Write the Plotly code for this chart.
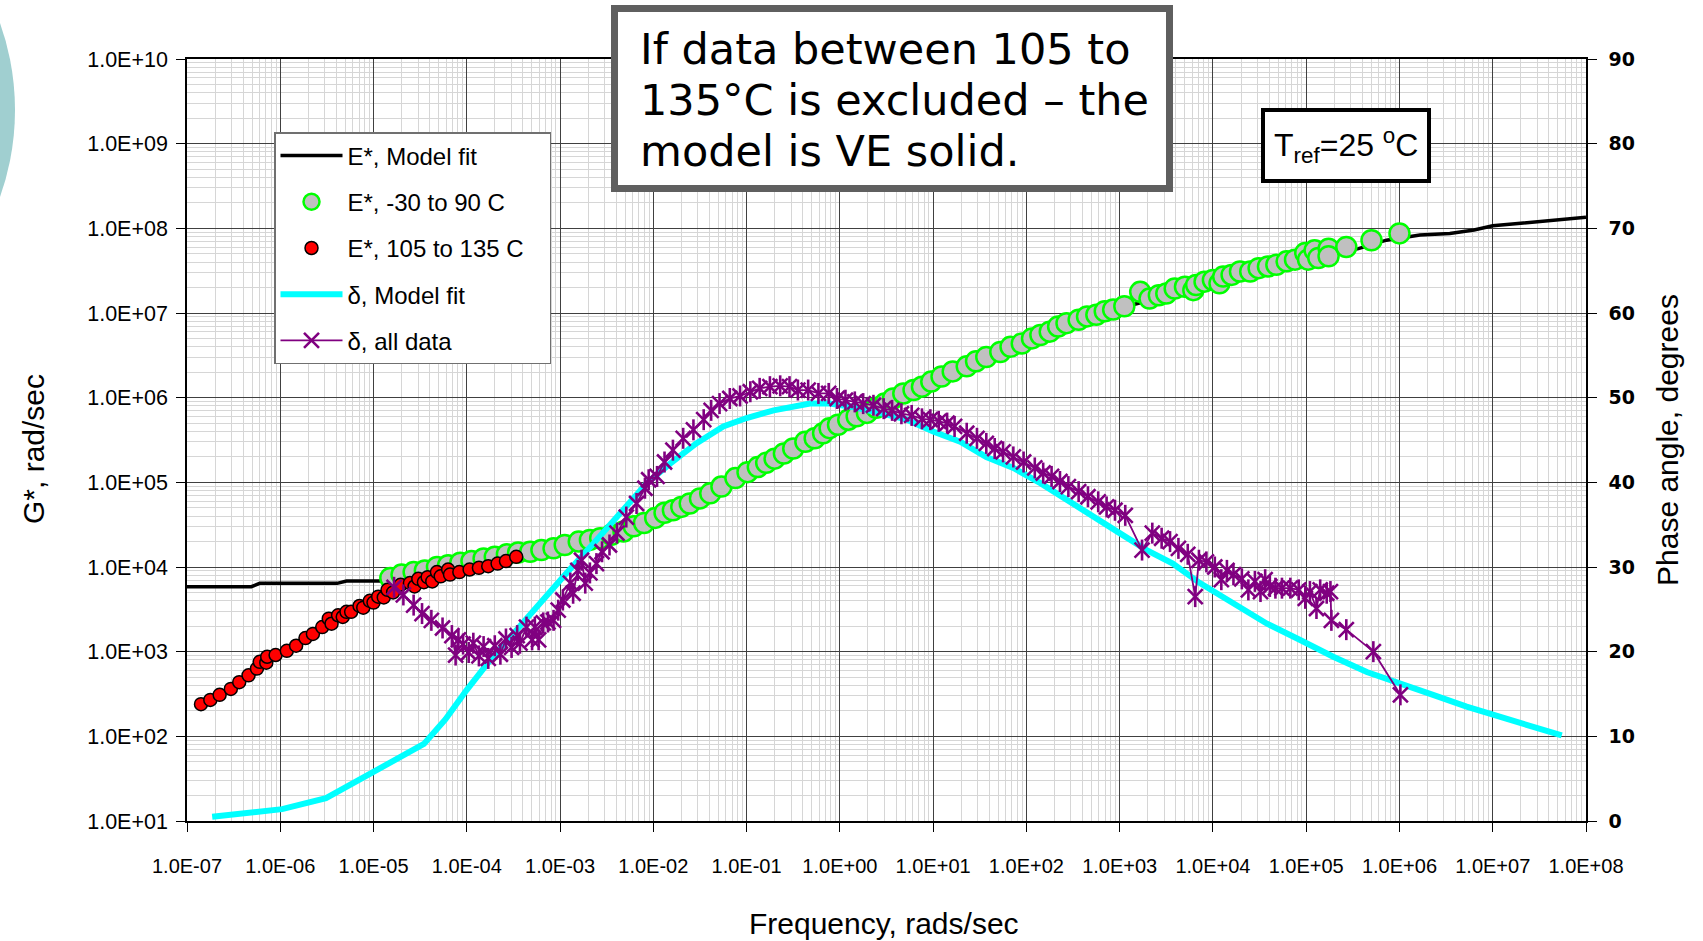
import numpy as np
import plotly.graph_objects as go

# ---------------------------------------------------------------------------
# Master-curve data (log10 of frequency in rad/s, log10 of |E*|, phase in deg)
# ---------------------------------------------------------------------------

# E*, model fit (sigmoid/VE-solid fit)
model_logf = [-7.00, -6.31, -6.22, -5.39, -5.29, -4.90, -4.50, -4.00, -3.50,
              -3.00, -2.50, -2.00, -1.50, -1.00, -0.50, 0.00, 0.50, 1.00,
              1.50, 2.00, 2.50, 3.00, 3.15, 3.50, 4.00, 4.50, 5.00, 5.56,
              5.86, 6.22, 6.54, 6.80, 7.00, 7.30, 7.60, 8.00]
model_logg = [3.768, 3.768, 3.807, 3.807, 3.835, 3.835, 3.95, 4.05, 4.14,
              4.23, 4.37, 4.57, 4.81, 5.12, 5.41, 5.70, 5.95, 6.19,
              6.44, 6.67, 6.89, 7.06, 7.10, 7.20, 7.37, 7.51, 7.64, 7.76,
              7.86, 7.92, 7.94, 7.98, 8.03, 8.06, 8.09, 8.13]

# E*, -30 to 90 C
mid_logf = [-4.82, -4.70, -4.57, -4.45, -4.32, -4.20, -4.07, -3.95, -3.82,
            -3.70, -3.57, -3.45, -3.32, -3.20, -3.07, -2.95, -2.80, -2.68,
            -2.57, -2.45, -2.32, -2.21, -2.10, -1.98, -1.88, -1.79, -1.70,
            -1.61, -1.50, -1.39, -1.27, -1.12, -0.99, -0.88, -0.79, -0.70,
            -0.60, -0.50, -0.37, -0.27, -0.18, -0.11, -0.02, 0.09, 0.18,
            0.29, 0.39, 0.48, 0.57, 0.68, 0.79, 0.88, 0.98, 1.09, 1.21,
            1.36, 1.46, 1.57, 1.72, 1.83, 1.95, 2.06, 2.15, 2.25, 2.34,
            2.43, 2.56, 2.65, 2.75, 2.84, 2.93, 3.05, 3.22, 3.32, 3.42,
            3.50, 3.59, 3.70, 3.79, 3.82, 3.91, 4.00, 4.07, 4.11, 4.20,
            4.29, 4.40, 4.49, 4.59, 4.68, 4.79, 4.88, 4.99, 5.02, 5.09,
            5.13, 5.24, 5.24, 5.43, 5.70, 6.00]
mid_logg = [3.87, 3.91, 3.94, 3.96, 4.00, 4.02, 4.05, 4.07, 4.10,
            4.12, 4.15, 4.17, 4.18, 4.20, 4.22, 4.26, 4.30, 4.32,
            4.34, 4.38, 4.42, 4.48, 4.52, 4.58, 4.64, 4.67, 4.71,
            4.75, 4.81, 4.87, 4.95, 5.05, 5.12, 5.18, 5.23, 5.28,
            5.34, 5.40, 5.48, 5.52, 5.58, 5.64, 5.68, 5.74, 5.78,
            5.82, 5.88, 5.93, 5.99, 6.05, 6.09, 6.13, 6.19, 6.25, 6.31,
            6.37, 6.43, 6.48, 6.54, 6.60, 6.64, 6.70, 6.74, 6.78, 6.84,
            6.88, 6.92, 6.96, 6.98, 7.02, 7.04, 7.08, 7.25, 7.17, 7.21,
            7.23, 7.29, 7.31, 7.27, 7.33, 7.37, 7.39, 7.35, 7.43, 7.45,
            7.49, 7.49, 7.53, 7.55, 7.57, 7.61, 7.63, 7.71, 7.63, 7.74,
            7.65, 7.76, 7.67, 7.78, 7.86, 7.94]

# E*, 105 to 135 C
hot_logf = [-6.85, -6.75, -6.65, -6.53, -6.44, -6.34, -6.25, -6.22, -6.15,
            -6.14, -6.05, -5.93, -5.83, -5.73, -5.65, -5.55, -5.48, -5.45,
            -5.38, -5.33, -5.29, -5.24, -5.15, -5.11, -5.04, -5.00, -4.95,
            -4.89, -4.85, -4.79, -4.71, -4.61, -4.56, -4.52, -4.46, -4.42,
            -4.37, -4.32, -4.28, -4.20, -4.18, -4.08, -3.97, -3.87, -3.77,
            -3.67, -3.58, -3.47]
hot_logg = [2.38, 2.43, 2.49, 2.56, 2.64, 2.72, 2.80, 2.88, 2.87,
            2.94, 2.96, 3.01, 3.07, 3.16, 3.21, 3.29, 3.39, 3.33,
            3.43, 3.41, 3.47, 3.47, 3.54, 3.52, 3.60, 3.58, 3.65,
            3.64, 3.73, 3.70, 3.79, 3.81, 3.77, 3.86, 3.82, 3.88,
            3.83, 3.94, 3.89, 3.97, 3.91, 3.94, 3.97, 3.99, 4.01,
            4.04, 4.07, 4.12]

# delta, model fit
dfit_logf = [-6.73, -5.98, -5.51, -4.99, -4.46, -4.23, -4.00, -3.75, -3.50,
             -3.22, -2.93, -2.64, -2.36, -2.07, -1.82, -1.54, -1.25, -1.00,
             -0.71, -0.54, -0.32, -0.11, 0.14, 0.39, 0.72, 1.00, 1.29,
             1.57, 1.86, 2.15, 2.43, 2.72, 3.00, 3.29, 3.57, 3.86, 4.22,
             4.58, 4.93, 5.29, 5.65, 6.01, 6.36, 6.72, 7.08, 7.74]
dfit_deg = [0.5, 1.4, 2.7, 5.9, 9.1, 12.0, 15.5, 19.0, 22.2,
            25.7, 29.3, 32.8, 36.3, 39.9, 42.2, 44.6, 46.6, 47.6,
            48.5, 48.9, 49.3, 49.3, 48.9, 48.3, 47.4, 46.0, 44.8,
            43.0, 41.7, 39.9, 37.9, 35.9, 34.0, 32.0, 30.4, 28.1, 25.7,
            23.3, 21.4, 19.4, 17.6, 16.3, 14.9, 13.5, 12.3, 10.1]

# delta, all data
dall_logf = [-4.78, -4.68, -4.57, -4.48, -4.38, -4.26, -4.16, -4.12, -4.09,
             -4.04, -3.98, -3.93, -3.87, -3.82, -3.77, -3.70, -3.64, -3.58,
             -3.52, -3.46, -3.43, -3.36, -3.30, -3.27, -3.23, -3.18, -3.13,
             -3.07, -3.02, -2.97, -2.89, -2.86, -2.81, -2.77, -2.73, -2.68,
             -2.61, -2.55, -2.47, -2.39, -2.29, -2.18, -2.09, -2.05, -1.96,
             -1.88, -1.79, -1.68, -1.57, -1.46, -1.38, -1.29, -1.18, -1.07,
             -0.96, -0.86, -0.75, -0.64, -0.54, -0.45, -0.34, -0.23, -0.12,
             -0.03, 0.06, 0.16, 0.25, 0.36, 0.47, 0.56, 0.66, 0.77, 0.88,
             0.97, 1.06, 1.15, 1.23, 1.36, 1.47, 1.57, 1.66, 1.75, 1.86,
             1.97, 2.09, 2.18, 2.27, 2.36, 2.45, 2.56, 2.66, 2.77, 2.86,
             2.95, 3.06, 3.24, 3.35, 3.45, 3.54, 3.63, 3.73, 3.81, 3.85,
             3.93, 4.02, 4.09, 4.15, 4.22, 4.31, 4.38, 4.45, 4.51, 4.56,
             4.61, 4.67, 4.74, 4.83, 4.92, 4.99, 5.04, 5.11, 5.15, 5.22,
             5.26, 5.27, 5.43, 5.72, 6.01]
dall_deg = [27.6, 26.7, 25.5, 24.5, 23.7, 22.8, 21.9, 19.6, 21.4,
            20.9, 19.9, 21.0, 19.5, 20.6, 19.2, 20.7, 19.7, 21.5,
            20.5, 21.9, 21.0, 22.9, 21.4, 22.9, 21.4, 23.4, 23.5,
            23.7, 24.9, 26.1, 28.1, 26.9, 29.6, 30.8, 28.1, 29.3,
            30.4, 31.8, 32.6, 34.0, 35.9, 37.5, 39.3, 40.3, 40.7,
            42.4, 43.8, 45.2, 46.2, 47.4, 48.5, 49.3, 49.9, 50.2,
            50.7, 51.1, 51.3, 51.4, 51.3, 50.9, 50.9, 50.5, 50.5,
            49.9, 49.7, 49.5, 49.3, 49.1, 48.7, 48.5, 48.1, 47.9, 47.5,
            47.4, 47.2, 47.0, 46.6, 45.8, 45.2, 44.6, 44.0, 43.6, 43.0,
            42.4, 41.7, 41.1, 40.7, 40.1, 39.5, 38.9, 38.3, 37.7, 37.1,
            36.7, 36.1, 32.0, 34.0, 33.4, 33.0, 32.2, 31.5, 26.5, 30.8,
            30.6, 30.0, 28.5, 29.6, 29.1, 28.6, 27.3, 28.3, 27.1, 28.5,
            27.7, 27.5, 27.5, 27.5, 27.3, 26.3, 27.1, 25.1, 27.3, 26.9,
            27.1, 23.7, 22.6, 20.0, 14.9]

# Axis ticks
x_tickvals = [1e-7, 1e-6, 1e-5, 1e-4, 1e-3, 1e-2, 1e-1, 1e0,
              1e1, 1e2, 1e3, 1e4, 1e5, 1e6, 1e7, 1e8]
x_ticktext = ["1.0E-07", "1.0E-06", "1.0E-05", "1.0E-04", "1.0E-03",
              "1.0E-02", "1.0E-01", "1.0E+00", "1.0E+01", "1.0E+02",
              "1.0E+03", "1.0E+04", "1.0E+05", "1.0E+06", "1.0E+07",
              "1.0E+08"]
y_tickvals = [1e1, 1e2, 1e3, 1e4, 1e5, 1e6, 1e7, 1e8, 1e9, 1e10]
y_ticktext = ["1.0E+01", "1.0E+02", "1.0E+03", "1.0E+04", "1.0E+05",
              "1.0E+06", "1.0E+07", "1.0E+08", "1.0E+09", "1.0E+10"]
y2_tickvals = [0, 10, 20, 30, 40, 50, 60, 70, 80, 90]

# ---------------------------------------------------------------------------
W, H = 1703, 941
L, R, T, B = 187, 117, 59, 120
PW, PH = W - L - R, H - T - B


def px(x):
    """pixel column -> paper x"""
    return (x - L) / PW


def py(y):
    """pixel row -> paper y"""
    return (H - B - y) / PH


SANS = "Liberation Sans, Arial, sans-serif"
WIDE = "DejaVu Sans, Verdana, sans-serif"
PURPLE = "#800080"

p10 = lambda v: np.power(10.0, np.asarray(v))

fig = go.Figure()

fig.add_trace(go.Scatter(
    x=p10(model_logf), y=p10(model_logg), mode="lines",
    line=dict(color="black", width=3.5),
    name="E*, Model fit", legendgroup="a"))

fig.add_trace(go.Scatter(
    x=p10(mid_logf), y=p10(mid_logg), mode="markers",
    marker=dict(size=20, color="#C0C0C0", line=dict(color="#00FF00", width=2.5)),
    name="E*, -30 to 90 C", legendgroup="b"))

fig.add_trace(go.Scatter(
    x=p10(hot_logf), y=p10(hot_logg), mode="markers",
    marker=dict(size=13, color="#FF0000", line=dict(color="black", width=1.5)),
    name="E*, 105 to 135 C\u00a0\u00a0\u00a0", legendgroup="c"))

fig.add_trace(go.Scatter(
    x=p10(dfit_logf), y=dfit_deg, mode="lines", yaxis="y2",
    line=dict(color="#00FFFF", width=6),
    name="δ, Model fit", legendgroup="d"))

fig.add_trace(go.Scatter(
    x=p10(dall_logf), y=dall_deg, mode="lines+markers", yaxis="y2",
    line=dict(color=PURPLE, width=1.8),
    marker=dict(symbol="x-thin-open", size=15, color=PURPLE,
                line=dict(color=PURPLE, width=2.6)),
    name="δ, all data", legendgroup="e"))

# vertical stroke of the star markers
fig.add_trace(go.Scatter(
    x=p10(dall_logf), y=dall_deg, mode="markers", yaxis="y2",
    marker=dict(symbol="line-ns-open", size=15, color=PURPLE,
                line=dict(color=PURPLE, width=2.6)),
    showlegend=False, hoverinfo="skip", legendgroup="e"))

grid_major = "#404040"
grid_minor = "#D6D6D6"

fig.update_layout(
    width=W, height=H,
    margin=dict(l=L, r=R, t=T, b=B, pad=0, autoexpand=False),
    paper_bgcolor="white", plot_bgcolor="white",
    showlegend=True,
    legend=dict(
        x=px(274), y=py(132), xanchor="left", yanchor="top",
        bgcolor="white", bordercolor="#707070", borderwidth=1.5,
        font=dict(family=SANS, size=24, color="black"),
        traceorder="grouped", tracegroupgap=12, itemwidth=62,
    ),
    xaxis=dict(
        type="log", range=[-7, 8], automargin=False,
        tickvals=x_tickvals, ticktext=x_ticktext, tickangle=0,
        tickfont=dict(family=SANS, size=20, color="black"),
        ticks="outside", ticklen=9, tickcolor="black", tickwidth=1,
        showline=True, linecolor="black", linewidth=1.5, mirror=True,
        showgrid=True, gridcolor=grid_major, gridwidth=1,
        minor=dict(dtick="D1", showgrid=True, gridcolor=grid_minor, gridwidth=1, ticks=""),
        zeroline=False, ticklabelstandoff=17,
    ),
    yaxis=dict(
        type="log", range=[1, 10], automargin=False,
        tickvals=y_tickvals, ticktext=y_ticktext,
        tickfont=dict(family=SANS, size=21.5, color="black"),
        ticks="outside", ticklen=9, tickcolor="black", tickwidth=1,
        showline=True, linecolor="black", linewidth=1.5,
        showgrid=True, gridcolor=grid_major, gridwidth=1,
        minor=dict(dtick="D1", showgrid=True, gridcolor=grid_minor, gridwidth=1, ticks=""),
        zeroline=False, ticklabelstandoff=4,
    ),
    yaxis2=dict(
        overlaying="y", side="right", range=[0, 90], automargin=False,
        tickvals=y2_tickvals,
        tickfont=dict(family=WIDE, size=19, color="black", weight="bold"),
        ticks="outside", ticklen=9, tickcolor="black", tickwidth=1,
        showline=True, linecolor="black", linewidth=1.5,
        showgrid=False, zeroline=False, ticklabelstandoff=8,
    ),
)

# decorative circle at the far left edge
fig.add_shape(type="circle", xref="paper", yref="paper",
              x0=px(-505), x1=px(15), y0=py(370), y1=py(-150),
              fillcolor="#A0CFD0", line=dict(width=0), layer="below")

# axis titles
fig.add_annotation(text="G*, rad/sec", xref="paper", yref="paper",
                   x=px(33), y=py(449), textangle=-90, showarrow=False,
                   font=dict(family=SANS, size=30, color="black"),
                   xanchor="center", yanchor="middle")
fig.add_annotation(text="Frequency, rads/sec", xref="paper", yref="paper",
                   x=px(884), y=py(924), showarrow=False,
                   font=dict(family=SANS, size=30, color="black"),
                   xanchor="center", yanchor="middle")
fig.add_annotation(text="Phase angle, degrees", xref="paper", yref="paper",
                   x=px(1667), y=py(440), textangle=-90, showarrow=False,
                   font=dict(family=SANS, size=30, color="black"),
                   xanchor="center", yanchor="middle")

# note box
fig.add_shape(type="rect", xref="paper", yref="paper",
              x0=px(614.5), x1=px(1169.5), y0=py(188.5), y1=py(8.5),
              fillcolor="white", line=dict(color="#5F5F5F", width=7),
              layer="above")
note_lines = ["If data between 105 to",
              "135°C is excluded – the",
              "model is VE solid."]
note_rows = [49, 100, 151]
for txt, row in zip(note_lines, note_rows):
    fig.add_annotation(text=txt, xref="paper", yref="paper",
                       x=px(638), y=py(row), showarrow=False,
                       xanchor="left", yanchor="middle", align="left",
                       font=dict(family=WIDE, size=43, color="black"))

# reference temperature box
fig.add_shape(type="rect", xref="paper", yref="paper",
              x0=px(1263), x1=px(1429), y0=py(181), y1=py(110),
              fillcolor="white", line=dict(color="black", width=4),
              layer="above")
fig.add_annotation(text="T<sub>ref</sub>=25 <sup>o</sup>C", xref="paper", yref="paper",
                   x=px(1346), y=py(145), showarrow=False,
                   xanchor="center", yanchor="middle",
                   font=dict(family=SANS, size=32, color="black"))

fig.write_html("out.html")
